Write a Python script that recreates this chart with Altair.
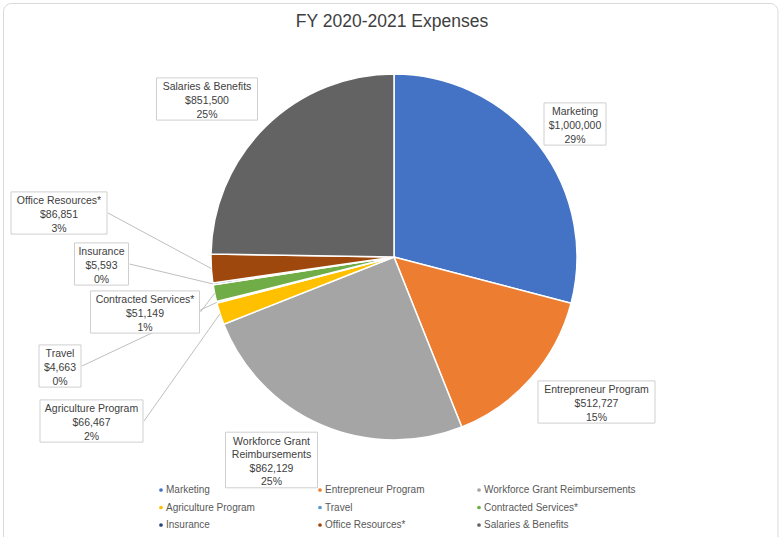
import altair as alt
import pandas as pd
import math

# ---- data ----
categories = ["Marketing", "Entrepreneur Program", "Workforce Grant Reimbursements",
              "Agriculture Program", "Travel", "Contracted Services*", "Insurance",
              "Office Resources*", "Salaries & Benefits"]
amounts = [1000000, 512727, 862129, 66467, 4663, 51149, 5593, 86851, 851500]
label_names = ["Marketing", "Entrepreneur Program", "Workforce Grant\nReimbursements",
               "Agriculture Program", "Travel", "Contracted Services*", "Insurance",
               "Office Resources*", "Salaries & Benefits"]
colors = ["#4472C4", "#ED7D31", "#A5A5A5", "#FFC000", "#5B9BD5", "#70AD47",
          "#264478", "#9E480E", "#636363"]
title_text = "FY 2020-2021 Expenses"

# ---- layout (annotation placement, pixels) ----
W, H = 784, 537
CX, CY, R = 394, 257, 183
label_cx = [575, 596.5, 271.5, 91.5, 60, 145, 101.5, 59, 207]
label_cy = [124, 402, 460, 421, 366, 312, 264, 213, 99]
label_w = [62, 117, 92, 103, 42, 109, 54, 96, 101]
has_leader = [False, False, False, True, True, True, True, True, False]
LH = 13.6
LEG_X0, LEG_DX, LEG_Y0, LEG_DY, LEG_COLS = 161, 159, 490, 17.5, 3

total = sum(amounts)
pcts = [a / total * 100 for a in amounts]
texts = [f"{n}\n${a:,}\n{round(p)}%" for n, a, p in zip(label_names, amounts, pcts)]
nlines = [t.count("\n") + 1 for t in texts]

pie_df = pd.DataFrame({"category": categories, "amount": amounts,
                       "idx": list(range(len(categories)))})

lab_df = pd.DataFrame({
    "text": texts,
    "cx": label_cx,
    "x0": [c - w / 2 for c, w in zip(label_cx, label_w)],
    "x1": [c + w / 2 for c, w in zip(label_cx, label_w)],
    "y0": [c - (n * 13.4 + 2) / 2 for c, n in zip(label_cy, nlines)],
    "y1": [c + (n * 13.4 + 2) / 2 for c, n in zip(label_cy, nlines)],
})
lab_df["ty"] = lab_df["y0"] + 4.5

cum = 0
lead_rows = []
for i, a in enumerate(amounts):
    mid = (cum + a / 2) / total * 2 * math.pi
    cum += a
    if has_leader[i]:
        lead_rows.append({
            "xa": label_cx[i] + label_w[i] / 2 + 1,
            "ya": label_cy[i],
            "xb": CX + R * math.sin(mid),
            "yb": CY - R * math.cos(mid),
        })
lead_df = pd.DataFrame(lead_rows)

leg_df = pd.DataFrame({
    "category": categories,
    "lx": [LEG_X0 + (i % LEG_COLS) * LEG_DX for i in range(len(categories))],
    "ly": [LEG_Y0 + (i // LEG_COLS) * LEG_DY for i in range(len(categories))],
})
leg_df["tx"] = leg_df["lx"] + 5

xs = alt.Scale(domain=[0, W], range=[0, W], nice=False, zero=False)
ys = alt.Scale(domain=[0, H], range=[0, H], nice=False, zero=False)
cs = alt.Scale(domain=categories, range=colors)

border = alt.Chart(pd.DataFrame({"a": [0]})).mark_rect(
    fill="white", stroke="#D9D9D9", strokeWidth=1, cornerRadius=8
).encode(x=alt.value(3.5), x2=alt.value(778), y=alt.value(3.5), y2=alt.value(570))

pie = alt.Chart(pie_df).mark_arc(outerRadius=R, stroke="white", strokeWidth=1.5).encode(
    theta=alt.Theta("amount:Q", stack=True),
    order=alt.Order("idx:Q"),
    color=alt.Color("category:N", scale=cs, legend=None),
    x=alt.value(CX),
    y=alt.value(CY),
)

leaders = alt.Chart(lead_df).mark_rule(color="#BFBFBF", strokeWidth=1).encode(
    x=alt.X("xa:Q", scale=xs, axis=None),
    y=alt.Y("ya:Q", scale=ys, axis=None),
    x2="xb:Q",
    y2="yb:Q",
)

boxes = alt.Chart(lab_df).mark_rect(fill="white", stroke="#CFCFCF", strokeWidth=1).encode(
    x=alt.X("x0:Q", scale=xs, axis=None),
    x2="x1:Q",
    y=alt.Y("y0:Q", scale=ys, axis=None),
    y2="y1:Q",
)

labels = alt.Chart(lab_df).mark_text(
    font="Liberation Sans", fontSize=10.5, color="#404040", align="center",
    baseline="top", lineBreak="\n", lineHeight=LH
).encode(
    x=alt.X("cx:Q", scale=xs, axis=None),
    y=alt.Y("ty:Q", scale=ys, axis=None),
    text="text:N",
)

leg_sym = alt.Chart(leg_df).mark_point(filled=True, shape="circle", size=14, opacity=1).encode(
    x=alt.X("lx:Q", scale=xs, axis=None),
    y=alt.Y("ly:Q", scale=ys, axis=None),
    color=alt.Color("category:N", scale=cs, legend=None),
)

leg_txt = alt.Chart(leg_df).mark_text(
    font="Liberation Sans", fontSize=10, color="#595959", align="left", baseline="middle"
).encode(
    x=alt.X("tx:Q", scale=xs, axis=None),
    y=alt.Y("ly:Q", scale=ys, axis=None),
    text="category:N",
)

title = alt.Chart(pd.DataFrame({"t": [title_text]})).mark_text(
    font="Liberation Sans", fontSize=17.5, color="#404040", align="center", baseline="middle"
).encode(x=alt.value(392), y=alt.value(22), text="t:N")

chart = alt.layer(border, pie, leaders, boxes, labels, leg_sym, leg_txt, title).properties(
    width=W, height=H, autosize=alt.AutoSizeParams(type="none"), padding=0
).configure_view(stroke=None)

chart.save("out.html", embed_options={"renderer": "svg", "actions": False})
